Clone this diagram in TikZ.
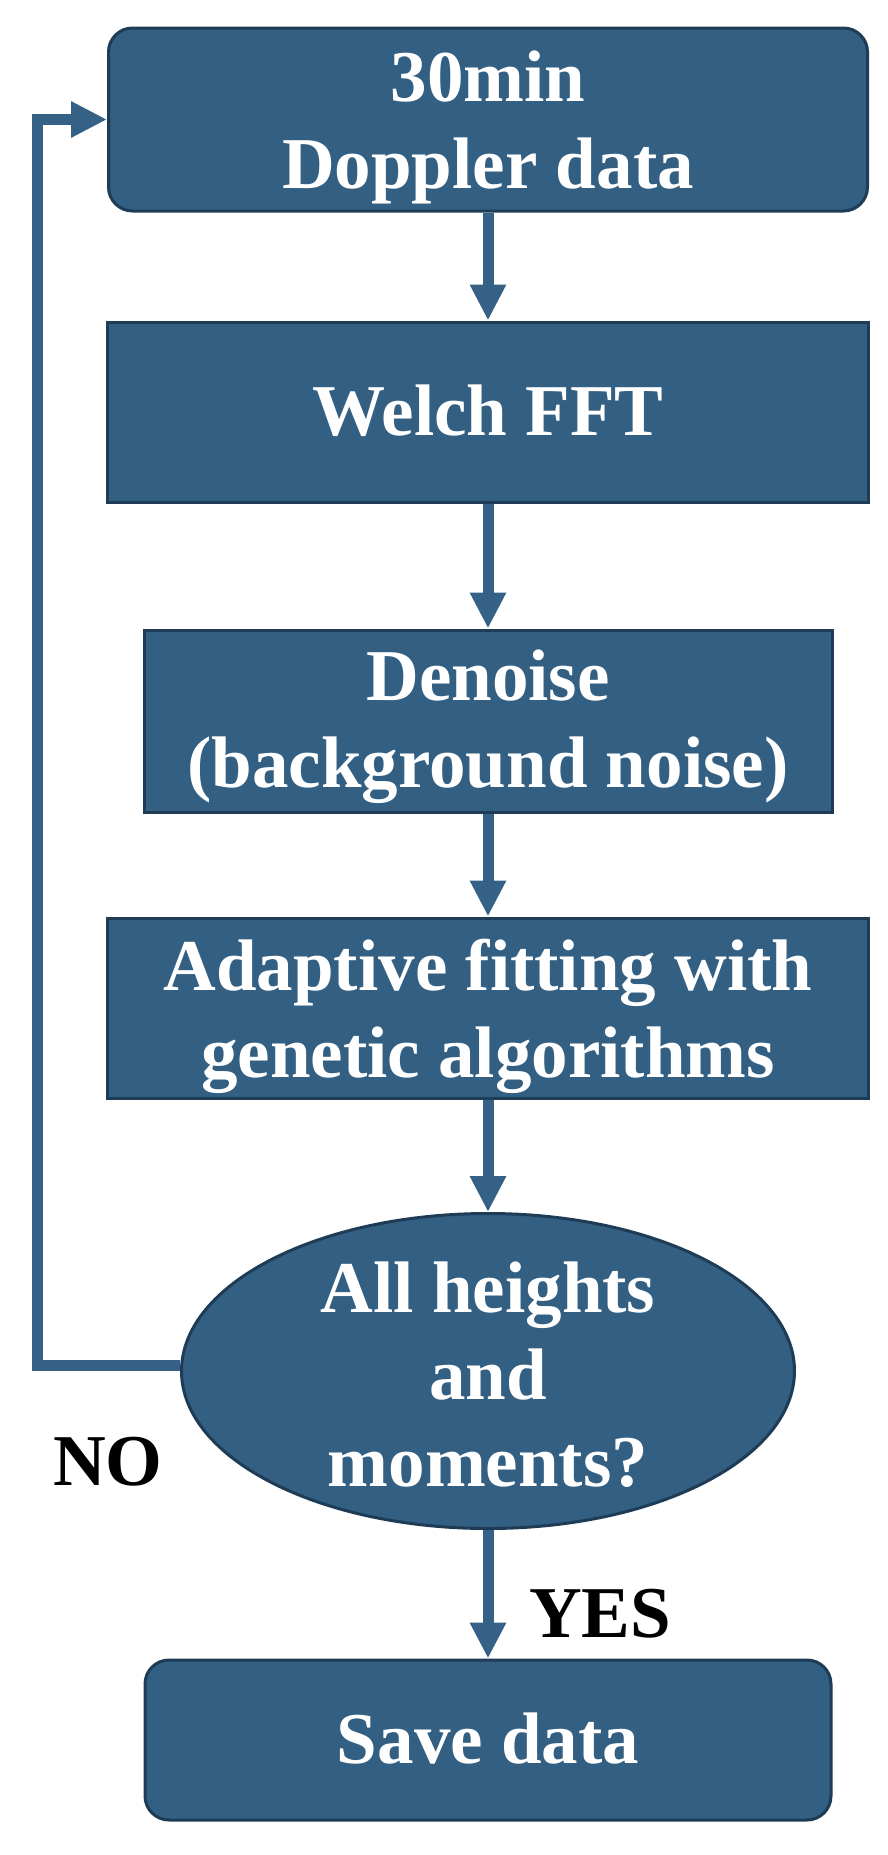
\documentclass[tikz,border=0pt]{standalone}
\usepackage{fontspec}
\setmainfont{Liberation Serif}
\usetikzlibrary{arrows.meta,shapes.geometric,calc}
\definecolor{boxfill}{RGB}{50,95,130}
\definecolor{boxline}{RGB}{30,60,85}
\definecolor{arrcol}{RGB}{52,97,133}
\begin{document}
\begin{tikzpicture}[x=1pt,y=-1pt,
  box/.style={draw=boxline,line width=3pt,fill=boxfill,inner sep=0pt,minimum width=#1},
  box/.default=761pt,
  rbox/.style={box=#1,rounded corners=24pt},
  txt/.style={text=white,font=\bfseries\fontsize{73}{87}\selectfont,align=center,inner sep=0pt},
  lbl/.style={text=black,font=\bfseries\fontsize{73}{87}\selectfont,inner sep=0pt,anchor=base},
  arr/.style={draw=arrcol,line width=11pt,-{Triangle[length=36pt,width=34pt]}}]
\useasboundingbox (0,0) rectangle (888,1855);
% boxes
\node[rbox=759pt,minimum height=183pt] (b1) at (488,119.5) {};
\node[box=761pt,minimum height=180pt] (b2) at (488,412) {};
\node[box=688pt,minimum height=182pt] (b3) at (488,721) {};
\node[box=761pt,minimum height=180pt] (b4) at (488,1008) {};
\node[ellipse,draw=boxline,line width=3pt,fill=boxfill,inner sep=0pt,minimum width=613pt,minimum height=315pt] (e) at (488,1371) {};
\node[rbox=686pt,minimum height=160pt] (b5) at (488,1740) {};
% texts
\node[txt] (t1) at (488,127) {30min\\Doppler data};
\node[txt] (t2) at (488,411) {Welch FFT};
\node[txt] (t3) at (488,727) {Denoise\\(background noise)};
\node[txt] (t4) at (488,1016) {Adaptive fitting with\\genetic algorithms};
\node[txt] (t5) at (488,1375) {All heights\\and\\moments?};
\node[txt] (t6) at (488,1739) {Save data};
\node[lbl] (no) at (108,1485) {NO};
\node[lbl] (yes) at (600,1637) {YES};
% connectors
\coordinate (loopx) at (37,0);
\draw[arr] (b1) -- (b2);
\draw[arr] (b2) -- (b3);
\draw[arr] (b3) -- (b4);
\draw[arr] (b4) -- (e);
\draw[arr] (e) -- (b5);
\draw[arr] ([yshift=6pt]e.west) -- ([yshift=6pt]e.west -| loopx) |- (b1.west);
\end{tikzpicture}
\end{document}
